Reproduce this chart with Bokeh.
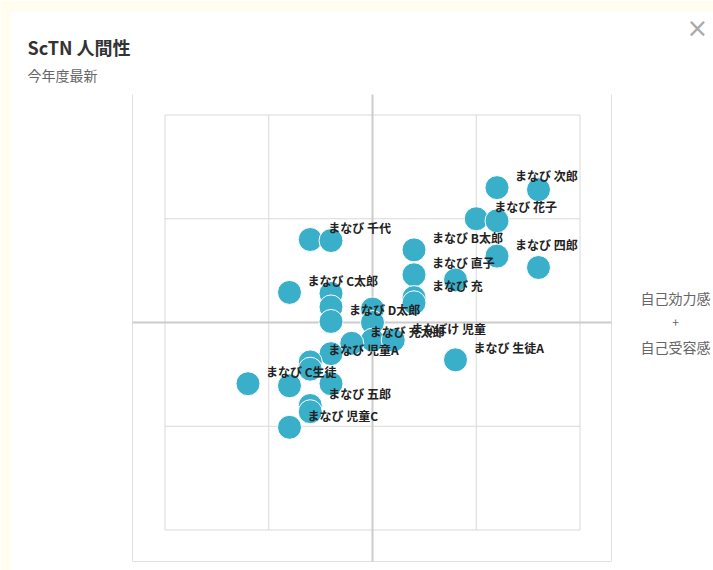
from bokeh.plotting import figure
from bokeh.models import ColumnDataSource, Range1d, Label
from bokeh.core.properties import value
from bokeh.embed import file_html
from bokeh.resources import INLINE

# ---- data ----
xs = [1.2, 1.6, 1.0, 1.2, -0.6, -0.4, 0.4, 1.2, 1.6, 0.4, 0.8, -0.8, -0.4, 0.4, 0.4, -0.4,
      0.0, -0.4, 0.0, 0.0, 0.2, -0.2, -0.4, 0.8, -0.6, -0.6, -1.2, -0.8, -0.4, -0.6, -0.6, -0.8]
ys = [1.30, 1.28, 1.00, 0.98, 0.80, 0.79, 0.70, 0.64, 0.53, 0.46, 0.41, 0.29, 0.28, 0.24, 0.19, 0.15,
      0.13, 0.01, 0.00, -0.17, -0.17, -0.20, -0.30, -0.36, -0.38, -0.45, -0.59, -0.61, -0.59, -0.80, -0.86, -1.01]
names = ["まなび 次郎", "", "まなび 花子", "", "まなび 千代", "", "まなび B太郎", "まなび 四郎",
         "", "まなび 直子", "", "まなび C太郎", "", "まなび 充", "", "",
         "", "まなび D太郎", "", "", "まなぼけ 児童", "まなび 充太郎", "", "まなび 生徒A",
         "まなび 児童A", "", "まなび C生徒", "", "", "まなび 五郎", "", "まなび 児童C"]
grid_ticks = [-2, -1, 0, 1, 2]
title_text = "ScTN 人間性"
subtitle_text = "今年度最新"
axis_title_lines = ["自己効力感", "+", "自己受容感"]

FONT = "Noto Sans CJK JP"
W, H = 713, 570

# pixel layout of the chart (canvas covers the whole page)
PX_ORIGIN_X, PX_ORIGIN_Y, PX_PER_UNIT = 372, 322, 103.75
BOX_L, BOX_R, BOX_T, BOX_B = 132, 611, 94, 561   # outer plot box, pixels


def dx(px):
    return (px - PX_ORIGIN_X) / PX_PER_UNIT


def dy(py):
    return (PX_ORIGIN_Y - py) / PX_PER_UNIT


xr = Range1d(dx(0), dx(W))
yr = Range1d(dy(H), dy(0))

p = figure(width=W, height=H, output_backend="svg", toolbar_location=None,
           x_range=xr, y_range=yr, x_axis_type=None, y_axis_type=None,
           min_border_left=0, min_border_right=0, min_border_top=0, min_border_bottom=0,
           background_fill_color="white", border_fill_color="white",
           outline_line_color=None)
p.grid.visible = False

# page background strip (cream) at top/left
p.quad(left=[dx(0)], right=[dx(W)], top=[dy(0)], bottom=[dy(12)], fill_color="#fffdf0", line_color=None)
p.quad(left=[dx(0)], right=[dx(10)], top=[dy(0)], bottom=[dy(H)], fill_color="#fffdf0", line_color=None)

# outer box (left, right, bottom)
p.segment(x0=[dx(BOX_L), dx(BOX_R), dx(BOX_L)], y0=[dy(BOX_T), dy(BOX_T), dy(BOX_B)],
          x1=[dx(BOX_L), dx(BOX_R), dx(BOX_R)], y1=[dy(BOX_B), dy(BOX_B), dy(BOX_B)],
          line_color="#e0e0e0", line_width=1)

# inner grid
lim = max(grid_ticks)
inner = [t for t in grid_ticks if t != 0]
p.segment(x0=inner, y0=[-lim] * len(inner), x1=inner, y1=[lim] * len(inner),
          line_color="#d9d9d9", line_width=1)
p.segment(x0=[-lim] * len(inner), y0=inner, x1=[lim] * len(inner), y1=inner,
          line_color="#d9d9d9", line_width=1)
# center axes
p.segment(x0=[0], y0=[dy(BOX_T)], x1=[0], y1=[dy(BOX_B)], line_color="#cccccc", line_width=2)
p.segment(x0=[dx(BOX_L)], y0=[0], x1=[dx(BOX_R)], y1=[0], line_color="#cccccc", line_width=2)

src = ColumnDataSource(dict(x=xs, y=ys, name=names))
p.scatter("x", "y", source=src, size=24, fill_color="#3aafc9", line_color="white", line_width=1)
p.text("x", "y", text="name", source=src, x_offset=18, y_offset=-12,
       text_font=value(FONT), text_font_size="12px", text_font_style="bold",
       text_color="#222222", text_baseline="middle", text_align="left")


def sy(py):
    return H - py


p.add_layout(Label(x=27, y=sy(46), x_units="screen", y_units="screen", text=title_text,
                   text_font=FONT, text_font_size="18px", text_font_style="bold",
                   text_color="#333333", text_baseline="middle", text_align="left"))
p.add_layout(Label(x=27, y=sy(74), x_units="screen", y_units="screen", text=subtitle_text,
                   text_font=FONT, text_font_size="14px",
                   text_color="#666666", text_baseline="middle", text_align="left"))
p.add_layout(Label(x=697, y=sy(27), x_units="screen", y_units="screen", text="×",
                   text_font="DejaVu Sans", text_font_size="26px",
                   text_color="#aaaaaa", text_baseline="middle", text_align="center"))
p.add_layout(Label(x=640, y=sy(297), x_units="screen", y_units="screen", text=axis_title_lines[0],
                   text_font=FONT, text_font_size="14px",
                   text_color="#666666", text_baseline="middle", text_align="left"))
p.add_layout(Label(x=675, y=sy(322), x_units="screen", y_units="screen", text=axis_title_lines[1],
                   text_font=FONT, text_font_size="12px",
                   text_color="#666666", text_baseline="middle", text_align="center"))
p.add_layout(Label(x=640, y=sy(346), x_units="screen", y_units="screen", text=axis_title_lines[2],
                   text_font=FONT, text_font_size="14px",
                   text_color="#666666", text_baseline="middle", text_align="left"))

open("out.html", "w").write(file_html(p, INLINE))
